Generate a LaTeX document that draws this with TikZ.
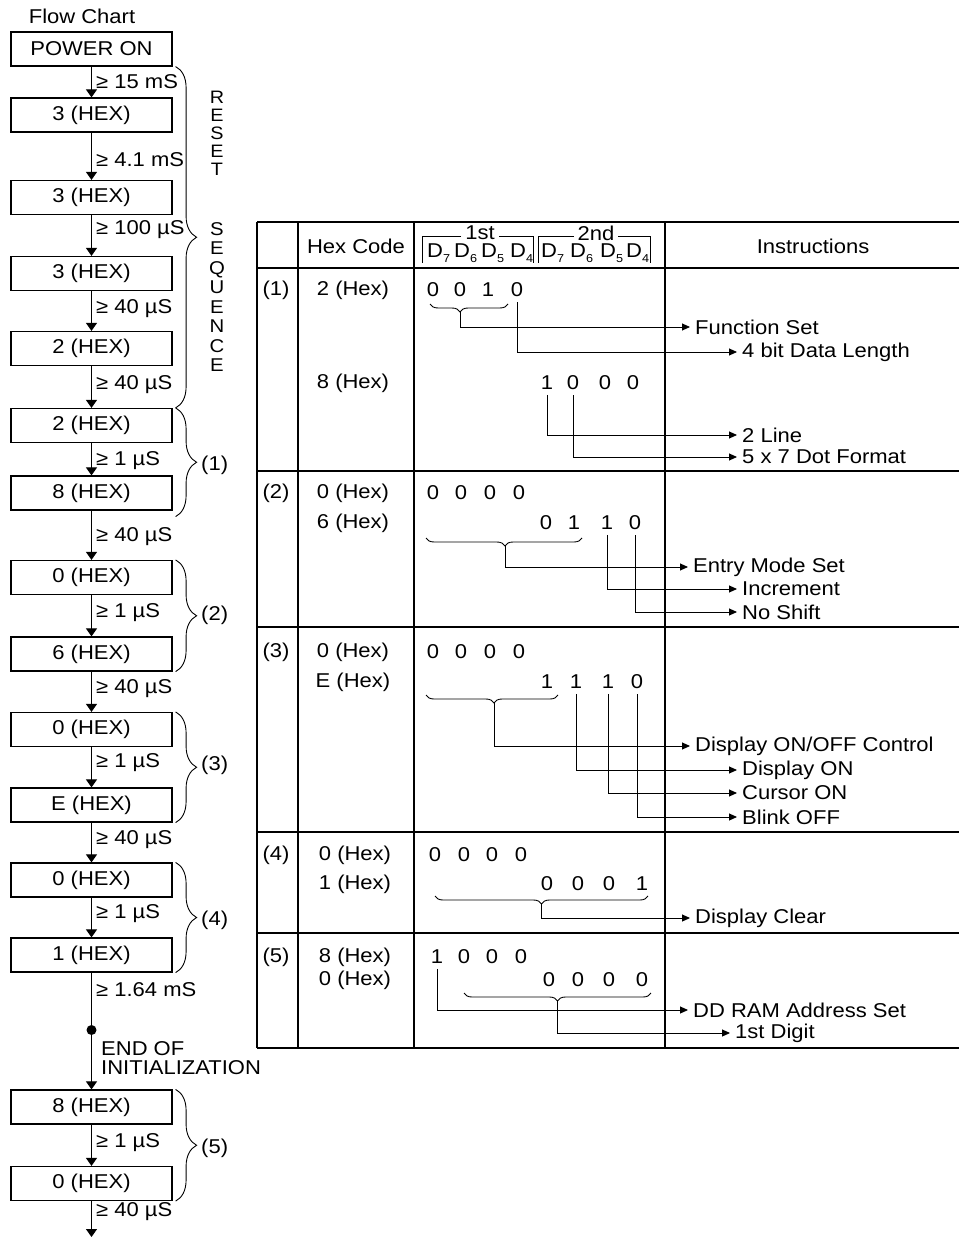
\documentclass[tikz,border=0pt]{standalone}
\usepackage{fontspec}
\setmainfont{Liberation Sans}[FakeStretch=1.1]
\usetikzlibrary{arrows.meta,decorations.pathreplacing}
\newcommand\fsz{\fontsize{20}{22}\selectfont}
\newcommand\sbs[1]{\raisebox{-5pt}{\fontsize{11.5}{11.5}\selectfont #1}}
\begin{document}
\begin{tikzpicture}[x=1pt,y=-1pt,
  font=\fsz,
  fbox/.style={draw, line width=1.2pt, minimum width=161pt, minimum height=34pt, inner sep=0pt},
  flow/.style={line width=1.1pt, -{Triangle[width=11pt,length=8pt]}},
  tlab/.style={anchor=west, inner sep=0pt},
  fbrace/.style={decorate, decoration={brace, amplitude=21pt, aspect=0.5}, line width=0.9pt},
  tline/.style={line width=1.2pt},
  bit/.style={inner sep=0pt, outer sep=5pt},
  conn/.style={line width=0.9pt, -{Triangle[width=7pt,length=8pt]}},
  instr/.style={anchor=west, inner xsep=5pt, inner ysep=0pt},
  bbrace/.style={decorate, decoration={brace, mirror, amplitude=8pt, aspect=0.5}, line width=0.9pt},
]
\useasboundingbox (0,0) rectangle (959,1238);
\fill[white] (0,0) rectangle (959,1238);

% ---------------- Flow chart ----------------
\node (title) at (82,16) {Flow Chart};
\node[fbox] (b1) at (91.5,49) {POWER ON};
\node[fbox] (b2) at (91.5,115) {3 (HEX)};
\node[fbox] (b3) at (91.5,197.5) {3 (HEX)};
\node[fbox] (b4) at (91.5,273.5) {3 (HEX)};
\node[fbox] (b5) at (91.5,348.5) {2 (HEX)};
\node[fbox] (b6) at (91.5,425.5) {2 (HEX)};
\node[fbox] (b7) at (91.5,493) {8 (HEX)};
\node[fbox] (b8) at (91.5,577.5) {0 (HEX)};
\node[fbox] (b9) at (91.5,654) {6 (HEX)};
\node[fbox] (b10) at (91.5,729.5) {0 (HEX)};
\node[fbox] (b11) at (91.5,805) {E (HEX)};
\node[fbox] (b12) at (91.5,880) {0 (HEX)};
\node[fbox] (b13) at (91.5,955) {1 (HEX)};
\node[fbox] (b14) at (91.5,1107) {8 (HEX)};
\node[fbox] (b15) at (91.5,1183.5) {0 (HEX)};
\coordinate (fend) at (91.5,1237);

\foreach \a/\b in {b1/b2,b2/b3,b3/b4,b4/b5,b5/b6,b6/b7,b7/b8,b8/b9,b9/b10,b10/b11,b11/b12,b12/b13,b13/b14,b14/b15,b15/fend}
  \draw[flow] (\a) -- (\b);
\node[circle, fill, inner sep=0pt, minimum size=10pt] (dot) at (91.5,1030) {};

\node[tlab] (l1) at (96,82) {≥ 15 mS};
\node[tlab] (l2) at (96,160) {≥ 4.1 mS};
\node[tlab] (l3) at (96,230) {≥ 100 µS};
\node[tlab] (l4) at (96,309) {≥ 40 µS};
\node[tlab] (l5) at (96,385) {≥ 40 µS};
\node[tlab] (l6) at (96,461) {≥ 1 µS};
\node[tlab] (l7) at (96,537) {≥ 40 µS};
\node[tlab] (l8) at (96,613) {≥ 1 µS};
\node[tlab] (l9) at (96,689) {≥ 40 µS};
\node[tlab] (l10) at (96,763) {≥ 1 µS};
\node[tlab] (l11) at (96,840) {≥ 40 µS};
\node[tlab] (l12) at (96,914) {≥ 1 µS};
\node[tlab] (l13) at (96,990) {≥ 1.64 mS};
\node[tlab, align=left, font=\fontsize{20}{19}\selectfont] (endinit) at (101,1058) {END OF\\INITIALIZATION};
\node[tlab] (l14) at (96,1143) {≥ 1 µS};
\node[tlab] (l15) at (96,1212) {≥ 40 µS};

% braces
\draw[fbrace] ([xshift=3pt]b1.south east) -- ([xshift=3pt]b6.north east);
\draw[fbrace] ([xshift=3pt]b6.north east) -- ([xshift=3pt,yshift=-6pt]b7.south east);
\draw[fbrace] ([xshift=3pt]b8.north east) -- ([xshift=3pt]b9.south east);
\draw[fbrace] ([xshift=3pt]b10.north east) -- ([xshift=3pt]b11.south east);
\draw[fbrace] ([xshift=3pt]b12.north east) -- ([xshift=3pt]b13.south east);
\draw[fbrace] ([xshift=3pt]b14.north east) -- ([xshift=3pt]b15.south east);

\node[align=center, inner sep=0pt, font=\fontsize{18}{18}\selectfont] (reset) at (217,133) {R\\E\\S\\E\\T};
\node[align=center, inner sep=0pt, font=\fontsize{18.5}{19.5}\selectfont] (seq) at (217,297) {S\\E\\Q\\U\\E\\N\\C\\E};
\node[tlab] (g1) at (201,465) {(1)};
\node[tlab] (g2) at (201,615) {(2)};
\node[tlab] (g3) at (201,765) {(3)};
\node[tlab] (g4) at (201,920) {(4)};
\node[tlab] (g5) at (201,1148) {(5)};

% ---------------- Table ----------------
\foreach \y in {222,268,471,627,832,933,1048}
  \draw[tline] (257,\y) -- (959,\y);
\foreach \x in {257,298,414,665}
  \draw[tline] (\x,222) -- (\x,1048);

\node (hhex) at (356,246) {Hex Code};
\node (hins) at (813,246) {Instructions};
\node[inner sep=0pt] (t1st) at (480,233) {1st};
\node[inner sep=0pt] (t2nd) at (596,233) {2nd};
\draw[line width=0.9pt] (461,236) -- (422,236) -- (422,263);
\draw[line width=0.9pt] (499,236) -- (533,236) -- (533,263);
\draw[line width=0.9pt] (574,236) -- (538,236) -- (538,263);
\draw[line width=0.9pt] (618,236) -- (650,236) -- (650,263);
\foreach \n/\x [count=\i] in {7/427,6/454,5/481,4/510}
  \node[anchor=base west, inner sep=0pt] (da\i) at (\x,258) {D\sbs{\n}};
\foreach \n/\x [count=\i] in {7/541,6/570,5/600,4/626}
  \node[anchor=base west, inner sep=0pt] (db\i) at (\x,258) {D\sbs{\n}};

% row labels and hex codes
\node (n1) at (276,290) {(1)};
\node (n2) at (276,493) {(2)};
\node (n3) at (276,652) {(3)};
\node (n4) at (276,855) {(4)};
\node (n5) at (276,957) {(5)};
\node (h1a) at (353,290) {2 (Hex)};
\node (h1b) at (353,383) {8 (Hex)};
\node (h2a) at (353,493) {0 (Hex)};
\node (h2b) at (353,523) {6 (Hex)};
\node (h3a) at (353,652) {0 (Hex)};
\node (h3b) at (353,682) {E (Hex)};
\node (h4a) at (355,855) {0 (Hex)};
\node (h4b) at (355,884) {1 (Hex)};
\node (h5a) at (355,957) {8 (Hex)};
\node (h5b) at (355,980) {0 (Hex)};

% bits
\foreach \t/\x [count=\i] in {0/433,0/460,1/488,0/517}
  \node[bit] (r1a\i) at (\x,290) {\t};
\foreach \t/\x [count=\i] in {1/547,0/573,0/605,0/633}
  \node[bit] (r1b\i) at (\x,383) {\t};
\foreach \t/\x [count=\i] in {0/433,0/461,0/490,0/519}
  \node[bit] (r2a\i) at (\x,493) {\t};
\foreach \t/\x [count=\i] in {0/546,1/574,1/607,0/635}
  \node[bit] (r2b\i) at (\x,523) {\t};
\foreach \t/\x [count=\i] in {0/433,0/461,0/490,0/519}
  \node[bit] (r3a\i) at (\x,652) {\t};
\foreach \t/\x [count=\i] in {1/547,1/576,1/608,0/637}
  \node[bit] (r3b\i) at (\x,682) {\t};
\foreach \t/\x [count=\i] in {0/435,0/464,0/492,0/521}
  \node[bit] (r4a\i) at (\x,855) {\t};
\foreach \t/\x [count=\i] in {0/547,0/578,0/609,1/642}
  \node[bit] (r4b\i) at (\x,884) {\t};
\foreach \t/\x [count=\i] in {1/437,0/464,0/492,0/521}
  \node[bit] (r5a\i) at (\x,957) {\t};
\foreach \t/\x [count=\i] in {0/549,0/578,0/609,0/642}
  \node[bit] (r5b\i) at (\x,980) {\t};

% bit braces and their tips
\draw[bbrace, decoration={aspect=0.385}] (430,304) -- (508,304);
\coordinate (k1) at (460,312);
\draw[bbrace, decoration={aspect=0.506}] (426,538) -- (582,538);
\coordinate (k2) at (505,546);
\draw[bbrace, decoration={aspect=0.515}] (426,695) -- (558,695);
\coordinate (k3) at (494,703);
\draw[bbrace] (435,896) -- (648,896);
\coordinate (k4) at (541.5,904);
\draw[bbrace] (464,993) -- (651,993);
\coordinate (k5) at (557.5,1001);

% instructions
\node[instr] (i1) at (690,327) {Function Set};
\node[instr] (i2) at (737,352) {4 bit Data Length};
\node[instr] (i3) at (737,435) {2 Line};
\node[instr] (i4) at (737,457) {5 x 7 Dot Format};
\node[instr] (i5) at (688,567) {Entry Mode Set};
\node[instr] (i6) at (737,589) {Increment};
\node[instr] (i7) at (737,612) {No Shift};
\node[instr] (i8) at (690,746) {Display ON/OFF Control};
\node[instr] (i9) at (737,770) {Display ON};
\node[instr] (i10) at (737,793) {Cursor ON};
\node[instr] (i11) at (737,817) {Blink OFF};
\node[instr] (i12) at (690,918) {Display Clear};
\node[instr] (i13) at (688,1010) {DD RAM Address Set};
\node[instr] (i14) at (730,1033) {1st Digit};

\draw[conn] (k1) |- (i1.west);
\draw[conn] (r1a4.south) |- (i2.west);
\draw[conn] (r1b1.south) |- (i3.west);
\draw[conn] (r1b2.south) |- (i4.west);
\draw[conn] (k2) |- (i5.west);
\draw[conn] (r2b3.south) |- (i6.west);
\draw[conn] (r2b4.south) |- (i7.west);
\draw[conn] (k3) |- (i8.west);
\draw[conn] (r3b2.south) |- (i9.west);
\draw[conn] (r3b3.south) |- (i10.west);
\draw[conn] (r3b4.south) |- (i11.west);
\draw[conn] (k4) |- (i12.west);
\draw[conn] (r5a1.south) |- (i13.west);
\draw[conn] (k5) |- (i14.west);
\end{tikzpicture}
\end{document}
